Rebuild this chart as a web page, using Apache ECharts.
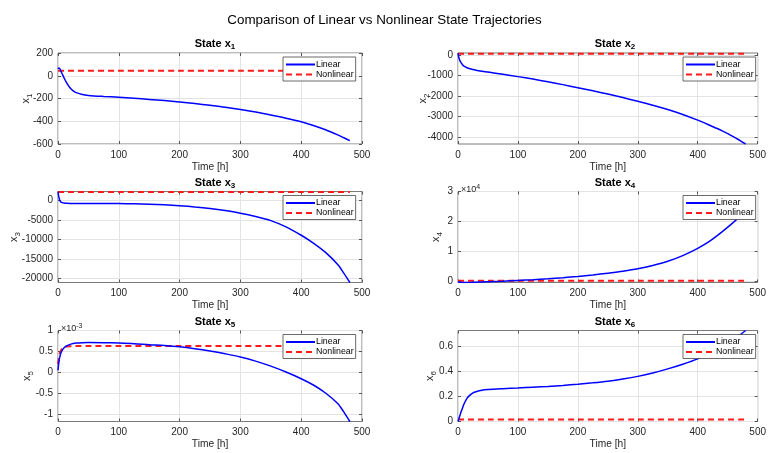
<!DOCTYPE html>
<html><head><meta charset="utf-8">
<script src="https://cdn.jsdelivr.net/npm/echarts@6/dist/echarts.min.js"></script>
<style>html,body{margin:0;padding:0;background:#fff}#c{width:769px;height:453px}</style>
</head><body><div id="c"></div><script>
// ---- data ----
const time    = [0, 1, 2, 3, 4, 5, 7, 10, 15, 20, 25, 30, 40, 50, 75, 100, 125, 150, 175, 200, 225, 250, 275, 300, 325, 350, 375, 400, 420, 440, 460, 470, 480];
const timeNon = [0, 1, 2, 3, 4, 5, 7, 10, 15, 20, 25, 30, 50, 100, 200, 300, 400, 480];

const x1Linear    = [60, 68, 70, 62, 50, 38, 15, -20, -70, -108, -133, -148, -165, -173, -182, -189, -198, -208, -218, -230, -244, -260, -277, -297, -319, -345, -373, -405, -437, -475, -520, -545, -570];
const x1Nonlinear = [45, 45, 45, 45, 45, 45, 45, 45, 45, 45, 45, 45, 45, 45, 45, 45, 45, 45];

const x2Linear    = [100, -60, -180, -260, -320, -370, -450, -540, -620, -670, -705, -735, -790, -830, -940, -1050, -1170, -1300, -1440, -1590, -1740, -1900, -2070, -2250, -2440, -2650, -2890, -3170, -3420, -3680, -3980, -4150, -4330];
const x2Nonlinear = [60, 60, 60, 60, 60, 60, 60, 60, 60, 60, 60, 60, 60, 60, 60, 60, 60, 60];

const x3Linear    = [2300, 1200, 500, 0, -250, -400, -550, -650, -720, -750, -760, -770, -770, -770, -770, -790, -850, -950, -1120, -1350, -1650, -2050, -2580, -3250, -4100, -5150, -6750, -8900, -10900, -13300, -16400, -18600, -21000];
const x3Nonlinear = [2150, 2150, 2150, 2150, 2150, 2150, 2150, 2150, 2150, 2150, 2150, 2150, 2150, 2150, 2150, 2150, 2150, 2150];

const x4Linear    = [0, -100, -150, -180, -200, -220, -230, -240, -230, -210, -180, -150, -80, 0, 200, 450, 700, 1000, 1350, 1750, 2250, 2850, 3500, 4300, 5400, 6800, 8700, 11100, 13500, 16500, 19800, 21800, 24000];
const x4Nonlinear = [350, 350, 350, 350, 350, 350, 350, 350, 350, 350, 350, 350, 350, 350, 350, 350, 350, 350];

// x5 values in units of 1e-3
const x5Linear    = [0.05, 0.2, 0.3, 0.37, 0.43, 0.47, 0.53, 0.59, 0.64, 0.67, 0.69, 0.70, 0.71, 0.715, 0.71, 0.70, 0.685, 0.66, 0.64, 0.61, 0.565, 0.51, 0.445, 0.37, 0.27, 0.15, 0.01, -0.15, -0.3, -0.49, -0.74, -0.94, -1.17];
const x5Nonlinear = [0.2, 0.3, 0.38, 0.45, 0.5, 0.53, 0.57, 0.6, 0.62, 0.625, 0.63, 0.63, 0.63, 0.63, 0.63, 0.63, 0.63, 0.63];

const x6Linear    = [0, 0.015, 0.03, 0.045, 0.06, 0.075, 0.1, 0.14, 0.185, 0.21, 0.228, 0.238, 0.25, 0.255, 0.262, 0.268, 0.274, 0.28, 0.288, 0.298, 0.309, 0.322, 0.339, 0.36, 0.387, 0.42, 0.457, 0.5, 0.545, 0.595, 0.655, 0.689, 0.726];
const x6Nonlinear = [0.016, 0.016, 0.016, 0.016, 0.016, 0.016, 0.016, 0.016, 0.016, 0.016, 0.016, 0.016, 0.016, 0.016, 0.016, 0.016, 0.016, 0.016];

const x1Ticks = [-600, -400, -200, 0, 200];
const x2Ticks = [-4000, -3000, -2000, -1000, 0];
const x3Ticks = [-20000, -15000, -10000, -5000, 0];
const x4Ticks = [0, 10000, 20000, 30000];
const x5Ticks = [-1, -0.5, 0, 0.5, 1];
const x6Ticks = [0, 0.2, 0.4, 0.6];

const mainTitle = 'Comparison of Linear vs Nonlinear State Trajectories';
const seriesNames = ['Linear', 'Nonlinear'];
const xName = 'Time [h]';

// ---- layout ----
const FONT = '"Liberation Sans", Arial, Helvetica, sans-serif';
const colLeft = [58, 458];
const rowTop = [53, 191.5, 330.5];
const W = 304, H = 91;

const panels = [
  {lin: x1Linear, non: x1Nonlinear, sub: '1', min: -600, max: 200, ticks: x1Ticks, gap: 25, expo: null},
  {lin: x2Linear, non: x2Nonlinear, sub: '2', min: -4330, max: 100, ticks: x2Ticks, gap: 28, expo: null},
  {lin: x3Linear, non: x3Nonlinear, sub: '3', min: -21000, max: 2300, ticks: x3Ticks, gap: 37, expo: null},
  {lin: x4Linear, non: x4Nonlinear, sub: '4', min: -250, max: 30000, ticks: x4Ticks, gap: 15, expo: '4', scale: 1e4},
  {lin: x5Linear, non: x5Nonlinear, sub: '5', min: -1.17, max: 1, ticks: x5Ticks, gap: 24, expo: '-3'},
  {lin: x6Linear, non: x6Nonlinear, sub: '6', min: 0, max: 0.726, ticks: x6Ticks, gap: 21, expo: null}
];

const grid = [], xAxis = [], yAxis = [], series = [], legend = [];
const xAxis2 = [], yAxis2 = [];
const title = [{
  text: mainTitle, left: 'center', top: 9,
  textStyle: {fontFamily: FONT, fontSize: 13.4, fontWeight: 'normal', color: '#000'}
}];
const tick = extra => Object.assign({show: true, inside: true, length: 3, lineStyle: {color: '#555'}}, extra || {});
const noLine = {show: false, onZero: false};

panels.forEach((p, i) => {
  const col = i % 2, row = Math.floor(i / 2);
  const L = colLeft[col], T = rowTop[row];
  grid.push({left: L, top: T, width: W, height: H, show: true, borderColor: '#7a7a7a', borderWidth: 1, backgroundColor: '#fff'});
  xAxis.push({
    type: 'value', gridIndex: i, position: 'bottom', min: 0, max: 500, interval: 100,
    name: xName, nameLocation: 'middle', nameGap: 18, nameMoveOverlap: false,
    nameTextStyle: {fontFamily: FONT, fontSize: 10.2, color: '#262626'},
    axisLine: noLine, axisTick: tick(),
    axisLabel: {fontFamily: FONT, fontSize: 10, color: '#262626', margin: 6},
    splitLine: {show: true, lineStyle: {color: '#e3e3e3', width: 1}}
  });
  xAxis2.push({
    type: 'value', gridIndex: i, position: 'top', min: 0, max: 500, interval: 100,
    axisLine: noLine, axisTick: tick(), axisLabel: {show: false}, splitLine: {show: false}
  });
  const sc = p.scale || 1;
  yAxis.push({
    type: 'value', gridIndex: i, position: 'left', min: p.min, max: p.max,
    name: '{i|x}{s|' + p.sub + '}', nameLocation: 'middle', nameGap: p.gap, nameRotate: 90, nameMoveOverlap: false,
    nameTextStyle: {fontFamily: FONT, color: '#262626',
      rich: {i: {fontFamily: FONT, fontSize: 11, color: '#262626', lineHeight: 14},
             s: {fontFamily: FONT, fontSize: 8, color: '#262626', lineHeight: 14, padding: [7, 0, 0, 0]}}},
    axisLine: noLine,
    axisTick: tick({customValues: p.ticks}),
    axisLabel: {fontFamily: FONT, fontSize: 10, color: '#262626', margin: 5, customValues: p.ticks,
      formatter: v => String(Math.round(v / sc * 1000) / 1000)},
    splitLine: {show: true, lineStyle: {color: '#e3e3e3', width: 1}}
  });
  yAxis2.push({
    type: 'value', gridIndex: i, position: 'right', min: p.min, max: p.max,
    axisLine: noLine, axisTick: tick({customValues: p.ticks}),
    axisLabel: {show: false, customValues: p.ticks}, splitLine: {show: false}
  });
  series.push({
    name: seriesNames[0], type: 'line', xAxisIndex: i, yAxisIndex: i,
    data: time.map((t, k) => [t, p.lin[k]]),
    symbol: 'none', smooth: 0.3,
    lineStyle: {color: '#0000ff', width: 1.5}, itemStyle: {color: '#0000ff'}, z: 3
  });
  series.push({
    name: seriesNames[1], type: 'line', xAxisIndex: i, yAxisIndex: i,
    data: timeNon.map((t, k) => [t, p.non[k]]),
    symbol: 'none', smooth: 0.3,
    lineStyle: {color: '#ff1a1a', width: 2, type: [6, 4]}, itemStyle: {color: '#ff1a1a'}, z: 2
  });
  legend.push({
    data: seriesNames, orient: 'vertical', left: L + 225, top: T + 4,
    padding: [3, 2, 2, 2], itemGap: 1, itemWidth: 29, itemHeight: 10,
    itemStyle: {opacity: 0, color: 'rgba(0,0,0,0)', borderWidth: 0},
    textStyle: {fontFamily: FONT, fontSize: 8.8, color: '#000', padding: [0, 0, 0, -4]},
    borderColor: '#444', borderWidth: 0.8, backgroundColor: '#fff', borderRadius: 0,
    selectedMode: false, z: 10
  });
  title.push({
    text: '{b|State x}{s|' + p.sub + '}', left: L + W / 2, top: T - 21, textAlign: 'center',
    textStyle: {rich: {
      b: {fontFamily: FONT, fontSize: 11, fontWeight: 'bold', color: '#000', lineHeight: 14},
      s: {fontFamily: FONT, fontSize: 8, fontWeight: 'bold', color: '#000', lineHeight: 14, padding: [6, 0, 0, 0]}
    }}
  });
  if (p.expo) {
    title.push({
      text: '{a|\u00d710}{e|' + p.expo + '}', left: L - 2, top: T - 13,
      textStyle: {fontWeight: 'normal', rich: {
        a: {fontFamily: FONT, fontSize: 9, fontWeight: 'normal', color: '#262626', lineHeight: 12},
        e: {fontFamily: FONT, fontSize: 7, fontWeight: 'normal', color: '#262626', lineHeight: 12, padding: [0, 0, 5, 0]}
      }}
    });
  }
});

const chart = echarts.init(document.getElementById('c'), null, {renderer: 'canvas'});
chart.setOption({
  animation: false, backgroundColor: '#fff', title, grid,
  xAxis: xAxis.concat(xAxis2), yAxis: yAxis.concat(yAxis2), series, legend
});
</script></body></html>
